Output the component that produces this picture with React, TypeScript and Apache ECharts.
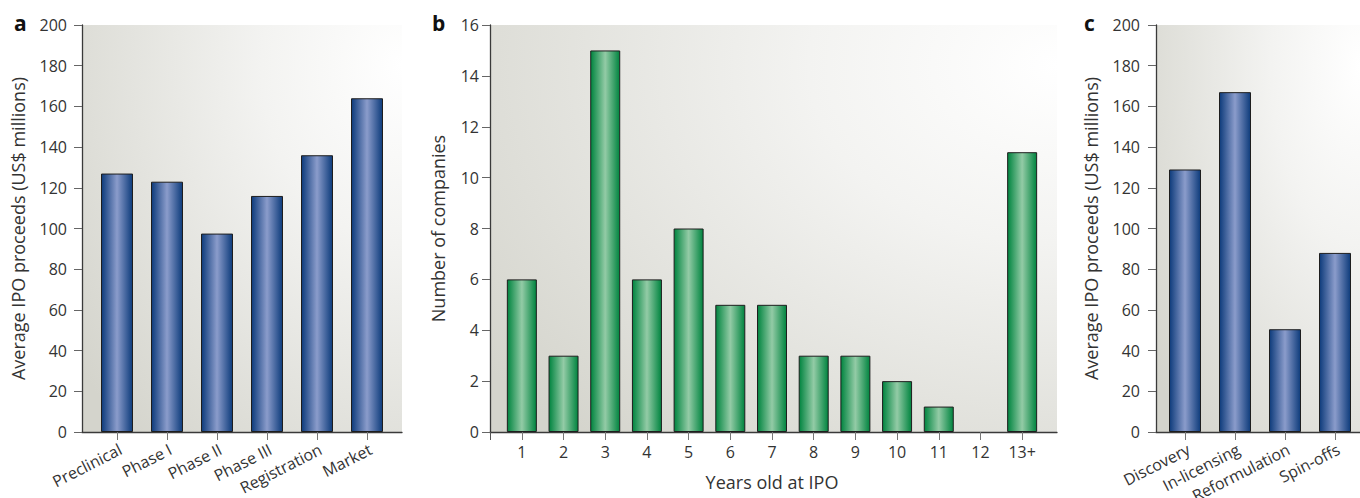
import React, { useEffect, useRef } from "react";
import * as echarts from "echarts";

const stageCategories = ["Preclinical", "Phase I", "Phase II", "Phase III", "Registration", "Market"];
const stageProceeds = [127, 123, 97.5, 116, 136, 164];

const yearCategories = ["1", "2", "3", "4", "5", "6", "7", "8", "9", "10", "11", "12", "13+"];
const yearCompanies = [6, 3, 15, 6, 8, 5, 5, 3, 3, 2, 1, 0, 11];

const modelCategories = ["Discovery", "In-licensing", "Reformulation", "Spin-offs"];
const modelProceeds = [129, 167, 50.5, 88];

const proceedsAxis = { min: 0, max: 200, interval: 20 };
const companiesAxis = { min: 0, max: 16, interval: 2 };

const FONT = "'Open Sans', 'Noto Sans', sans-serif";
const TEXT = "#333";

function bgGradient() {
  return new echarts.graphic.RadialGradient(1, 0.1, 1.25, [
    { offset: 0, color: "#ffffff" },
    { offset: 0.35, color: "#f3f3f1" },
    { offset: 1, color: "#d4d4cc" },
  ]);
}

function barGradient(edge: string, mid: string) {
  return new echarts.graphic.LinearGradient(0, 0, 1, 0, [
    { offset: 0, color: edge },
    { offset: 0.5, color: mid },
    { offset: 1, color: edge },
  ]);
}

type Panel = {
  frame: { left: number; width: number };
  bars: { left: number; width: number };
  categories: string[];
  values: number[];
  axis: { min: number; max: number; interval: number };
  yName: string;
  nameGap: number;
  labelMargin: number;
  rotate: number;
  barWidth: number;
  color: any;
  xName?: string;
  startTick?: boolean;
};

const TOP = 25;
const HEIGHT = 407;

export default function App() {
  const ref = useRef<HTMLDivElement>(null);

  useEffect(() => {
    if (!ref.current) return;
    const chart = echarts.init(ref.current, undefined, { renderer: "svg" });

    const blue = barGradient("#0d3b7b", "#8b9ccb");
    const green = barGradient("#00843f", "#93cba6");

    const panels: Panel[] = [
      {
        frame: { left: 82, width: 320 },
        bars: { left: 92, width: 300 },
        categories: stageCategories,
        values: stageProceeds,
        axis: proceedsAxis,
        yName: "Average IPO proceeds (US$ millions)",
        nameGap: 55,
        labelMargin: 15,
        rotate: 27,
        barWidth: 32,
        color: blue,
      },
      {
        frame: { left: 490, width: 567 },
        bars: { left: 501, width: 542 },
        categories: yearCategories,
        values: yearCompanies,
        axis: companiesAxis,
        yName: "Number of companies",
        nameGap: 43,
        labelMargin: 11,
        rotate: 0,
        barWidth: 30,
        color: green,
        xName: "Years old at IPO",
        startTick: true,
      },
      {
        frame: { left: 1156, width: 204 },
        bars: { left: 1160, width: 200 },
        categories: modelCategories,
        values: modelProceeds,
        axis: proceedsAxis,
        yName: "Average IPO proceeds (US$ millions)",
        nameGap: 56,
        labelMargin: 16,
        rotate: 27,
        barWidth: 32,
        color: blue,
      },
    ];

    const grid: any[] = [];
    const xAxis: any[] = [];
    const yAxis: any[] = [];
    const series: any[] = [];

    panels.forEach((p, i) => {
      const fi = i * 2;
      const bi = i * 2 + 1;
      grid.push({
        left: p.frame.left,
        width: p.frame.width,
        top: TOP,
        height: HEIGHT,
        show: true,
        backgroundColor: bgGradient(),
        borderWidth: 0,
        outerBoundsMode: "none",
      });
      grid.push({
        left: p.bars.left,
        width: p.bars.width,
        top: TOP,
        height: HEIGHT,
        outerBoundsMode: "none",
      });
      xAxis.push({
        type: "value",
        gridIndex: fi,
        min: 0,
        max: 1,
        axisLine: { show: true, lineStyle: { color: "#3a3a3a", width: 1.3 } },
        axisTick: p.startTick
          ? { show: true, customValues: [0], length: 8, lineStyle: { color: "#555" } }
          : { show: false },
        axisLabel: { show: false },
        splitLine: { show: false },
      });
      yAxis.push({
        type: "value",
        gridIndex: fi,
        min: p.axis.min,
        max: p.axis.max,
        interval: p.axis.interval,
        axisLine: { show: true, lineStyle: { color: "#3a3a3a", width: 1.3 } },
        axisTick: { show: true, length: 8, lineStyle: { color: "#666" } },
        axisLabel: { color: TEXT, fontSize: 16, fontFamily: FONT, margin: p.labelMargin },
        splitLine: { show: false },
        name: p.yName,
        nameLocation: "middle",
        nameGap: p.nameGap,
        nameTextStyle: { color: TEXT, fontSize: 18, fontFamily: FONT },
      });
      xAxis.push({
        type: "category",
        gridIndex: bi,
        data: p.categories,
        axisLine: { show: false },
        axisTick: { show: true, alignWithLabel: true, length: 8, lineStyle: { color: "#777" } },
        axisLabel: p.rotate
          ? {
              color: TEXT,
              fontSize: 16,
              fontFamily: FONT,
              rotate: p.rotate,
              margin: 9,
              verticalAlign: "top",
              interval: 0,
            }
          : { color: TEXT, fontSize: 16, fontFamily: FONT, margin: 12, interval: 0 },
        name: p.xName,
        nameLocation: "middle",
        nameGap: 41,
        nameTextStyle: { color: TEXT, fontSize: 18, fontFamily: FONT },
      });
      yAxis.push({
        type: "value",
        gridIndex: bi,
        min: p.axis.min,
        max: p.axis.max,
        interval: p.axis.interval,
        show: false,
      });
      series.push({
        type: "bar",
        xAxisIndex: bi,
        yAxisIndex: bi,
        data: p.values.map((v) =>
          v === 0 ? { value: v, itemStyle: { borderWidth: 0, opacity: 0 } } : v
        ),
        barWidth: p.barWidth,
        itemStyle: { color: p.color, borderColor: "#1e1e1e", borderWidth: 1 },
        silent: true,
      });
    });

    chart.setOption({
      animation: false,
      backgroundColor: "#ffffff",
      textStyle: { fontFamily: FONT },
      grid,
      xAxis,
      yAxis,
      series,
      graphic: [
        { type: "text", left: 14, top: 12, style: { text: "a", font: `bold 21px ${FONT}`, fill: "#111" } },
        { type: "text", left: 432, top: 12, style: { text: "b", font: `bold 21px ${FONT}`, fill: "#111" } },
        { type: "text", left: 1084, top: 12, style: { text: "c", font: `bold 21px ${FONT}`, fill: "#111" } },
      ],
    });

    return () => chart.dispose();
  }, []);

  return (
    <div
      ref={ref}
      style={{ position: "fixed", left: 0, top: 0, width: 1360, height: 498 }}
    />
  );
}
